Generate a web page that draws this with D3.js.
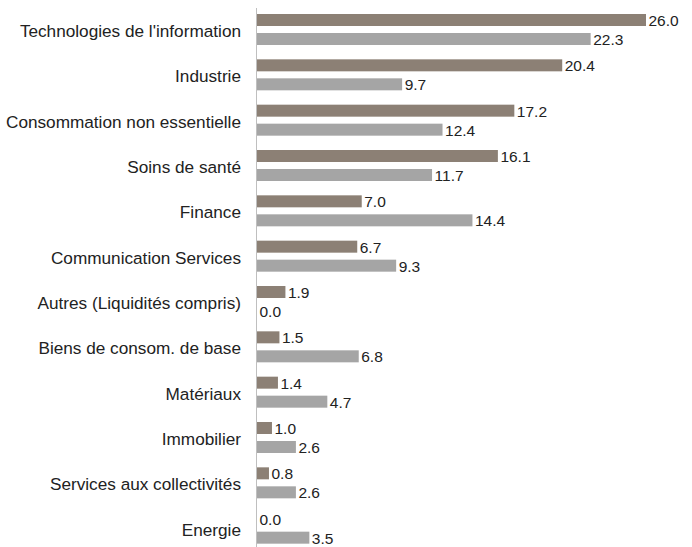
<!DOCTYPE html>
<html>
<head>
<meta charset="utf-8">
<script src="https://cdn.jsdelivr.net/npm/d3@7"></script>
<style>
  body { margin: 0; background: #fff; }
  text { font-family: "Liberation Sans", Arial, sans-serif; fill: #222; }
</style>
</head>
<body>
<svg id="chart" width="692" height="547"></svg>
<script>
// categories & series
const categories = [
  "Technologies de l'information", "Industrie", "Consommation non essentielle",
  "Soins de santé", "Finance", "Communication Services",
  "Autres (Liquidités compris)", "Biens de consom. de base", "Matériaux",
  "Immobilier", "Services aux collectivités", "Energie"
];
const fundValues  = [26.0, 20.4, 17.2, 16.1, 7.0, 6.7, 1.9, 1.5, 1.4, 1.0, 0.8, 0.0];
const indexValues = [22.3, 9.7, 12.4, 11.7, 14.4, 9.3, 0.0, 6.8, 4.7, 2.6, 2.6, 3.5];

const svg = d3.select('#chart');
const colours = ['#8C8075', '#A5A5A5'];

const x = d3.scaleLinear().domain([0, 26]).range([257, 646]);
const y = d3.scaleBand().domain(categories).range([8, 552]);

const series = [fundValues, indexValues];
const barH = 12;
const offsets = [6, 25];

// bars + value labels
series.forEach((vals, s) => {
  const g = svg.append('g');
  g.selectAll('rect').data(categories)
    .join('rect')
      .attr('x', x(0))
      .attr('y', d => y(d) + offsets[s])
      .attr('width', (d, i) => x(vals[i]) - x(0))
      .attr('height', barH)
      .attr('fill', colours[s]);
  g.selectAll('text').data(categories)
    .join('text')
      .attr('x', (d, i) => x(vals[i]) + 2.5)
      .attr('y', d => y(d) + offsets[s] + barH / 2)
      .attr('dy', '0.38em')
      .attr('font-size', 15.5)
      .text((d, i) => vals[i].toFixed(1));
});

// category labels
svg.append('g').selectAll('text').data(categories)
  .join('text')
    .attr('x', 241)
    .attr('y', d => y(d) + y.bandwidth() / 2)
    .attr('dy', '0.36em')
    .attr('text-anchor', 'end')
    .attr('font-size', 17.2)
    .text(d => d);

// vertical axis line
svg.append('line')
  .attr('x1', x(0) - 0.5).attr('x2', x(0) - 0.5)
  .attr('y1', 8).attr('y2', 547)
  .attr('stroke', '#BFBFBF')
  .attr('stroke-width', 1);
</script>
</body>
</html>
